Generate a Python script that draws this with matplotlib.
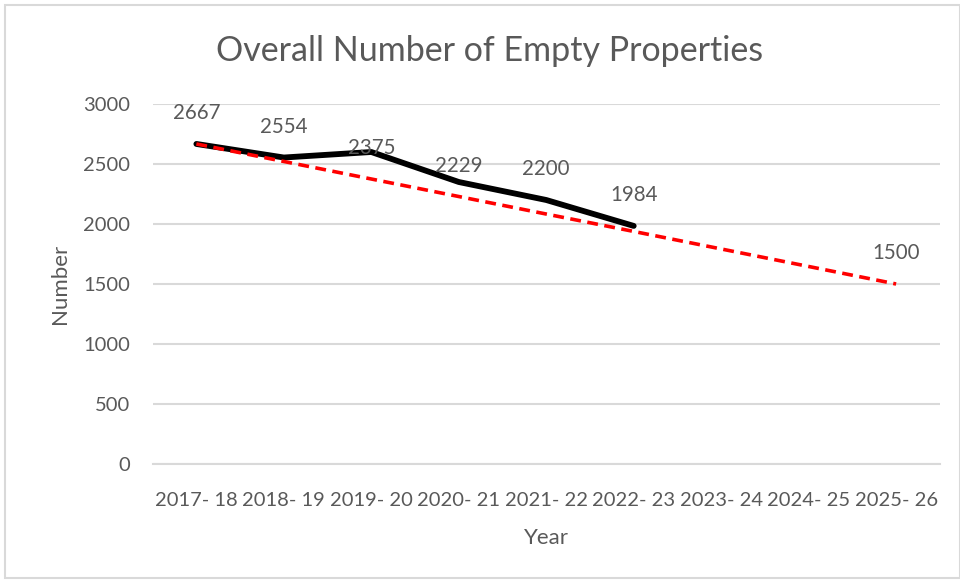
import matplotlib
matplotlib.use('Agg')
import matplotlib.pyplot as plt
import numpy as np
from matplotlib.patches import Rectangle

years = ['2017- 18', '2018- 19', '2019- 20', '2020- 21', '2021- 22',
         '2022- 23', '2023- 24', '2024- 25', '2025- 26']
actual = [2667, 2554, 2600, 2350, 2200, 1984]
target = [2667, 2521, 2375, 2229, 2083, 1938, 1792, 1646, 1500]
# data labels as they appear on the chart (index, value)
label_idx = [0, 1, 2, 3, 4, 5, 8]
label_val = [2667, 2554, 2375, 2229, 2200, 1984, 1500]

grey = '#595959'
plt.rcParams['font.family'] = ['Lato', 'DejaVu Sans']

fig = plt.figure(figsize=(9.6, 5.81), dpi=100)
fig.patches.append(Rectangle((0.005, 0.005), 0.995, 0.987, transform=fig.transFigure,
                             fill=False, edgecolor='#d9d9d9', linewidth=1.5))
ax = fig.add_axes([0.159, 0.2014, 0.820, 0.6196])

x = np.arange(len(years))
ax.plot(x[:len(actual)], actual, color='black', linewidth=4.2,
        solid_capstyle='round', solid_joinstyle='round', zorder=3)
ax.plot(x, target, color='#ff0000', linewidth=2.6, linestyle=(0, (3, 1.8)), zorder=4)

for i, v in zip(label_idx, label_val):
    ax.annotate(str(v), xy=(i, v), xytext=(0, 22), textcoords='offset points',
                ha='center', va='center', fontsize=14.8, color=grey)

ax.set_xlim(-0.5, len(years) - 0.5)
ax.set_ylim(0, 3000)
ax.set_yticks(np.arange(0, 3001, 500))
ax.set_xticks(x)
ax.set_xticklabels(years)
ax.grid(axis='y', color='#d9d9d9', linewidth=1.5)
ax.set_axisbelow(True)
for s in ['top', 'right', 'left']:
    ax.spines[s].set_visible(False)
ax.spines['bottom'].set_color('#d9d9d9')
ax.spines['bottom'].set_linewidth(1.5)
ax.tick_params(length=0, labelsize=14.5, labelcolor=grey)
ax.tick_params(axis='y', pad=16)
ax.tick_params(axis='x', pad=20)

ax.set_xlabel('Year', fontsize=16, color=grey, labelpad=14)
ax.set_ylabel('Number', fontsize=16, color=grey, labelpad=10)
fig.text(0.51, 0.912, 'Overall Number of Empty Properties', ha='center', va='center',
         fontsize=24.5, color=grey)

fig.savefig('out.png', dpi=100)
